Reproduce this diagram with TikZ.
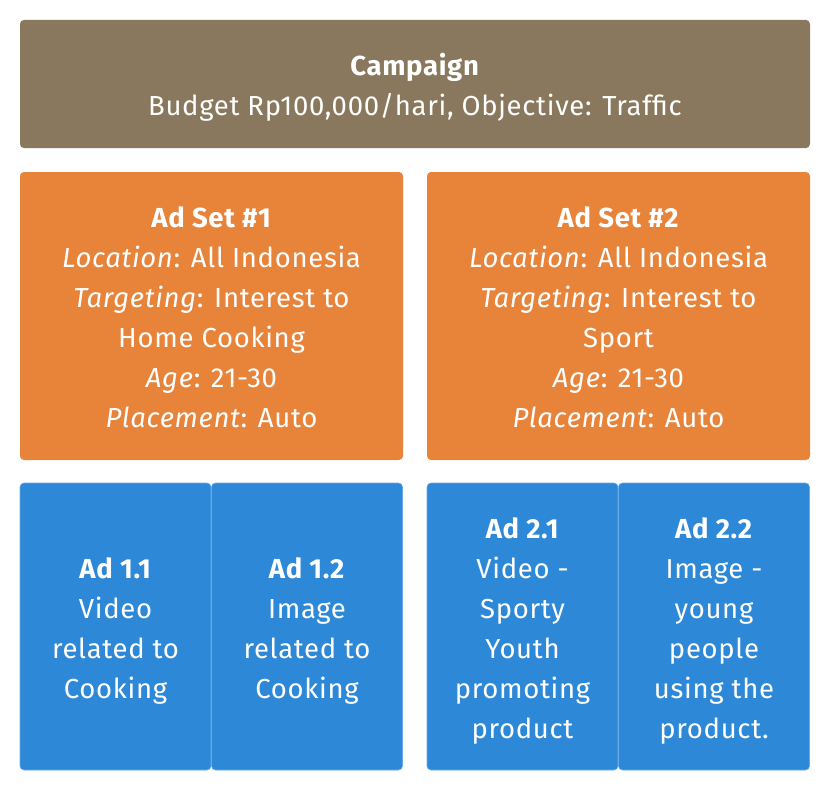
\documentclass[tikz,border=0pt]{standalone}
\usepackage{fontspec}
\setmainfont{Fira Sans}[LetterSpace=2.5]
\definecolor{campc}{HTML}{89785D}
\definecolor{setc}{HTML}{E8833A}
\definecolor{adc}{HTML}{2D88D8}
\definecolor{adline}{HTML}{6AAAE6}
\tikzset{
  box/.style={anchor=north west, inner sep=0pt, outer sep=0pt, rounded corners=4pt},
  txt/.style={inner sep=0pt, text=white, align=center, font=\fontsize{27.5}{40}\selectfont},
  campbox/.style={box, fill=campc, minimum width=790pt, minimum height=128pt},
  setbox/.style={box, fill=setc, minimum width=383pt, minimum height=288pt},
  adbox/.style={box, fill=adc, draw=adline, line width=0.6pt, minimum width=191pt, minimum height=287pt},
}
\begin{document}
\begin{tikzpicture}[x=1pt,y=1pt]
\useasboundingbox (0,0) rectangle (832,-792);
\node[campbox] (camp) at (20,-20) {};
\node[setbox] (set1) at (20,-172) {};
\node[setbox] (set2) at (427,-172) {};
\node[adbox] (ad11) at (20,-483) {};
\node[adbox] (ad12) at (211.5,-483) {};
\node[adbox] (ad21) at (427,-483) {};
\node[adbox] (ad22) at (618.5,-483) {};
\node[txt] (campt) at ([yshift=-3pt]camp.center) {\textbf{Campaign}\\Budget Rp100,000/hari, Objective: Traffic};
\node[txt] (set1t) at ([yshift=-1pt]set1.center) {\textbf{Ad Set \#1}\\\textit{Location}: All Indonesia\\\textit{Targeting}: Interest to\\Home Cooking\\\textit{Age}: 21-30\\\textit{Placement}: Auto};
\node[txt] (set2t) at ([yshift=-1pt]set2.center) {\textbf{Ad Set \#2}\\\textit{Location}: All Indonesia\\\textit{Targeting}: Interest to\\Sport\\\textit{Age}: 21-30\\\textit{Placement}: Auto};
\node[txt] (ad11t) at ([yshift=-4pt]ad11.center) {\textbf{Ad 1.1}\\Video\\related to\\Cooking};
\node[txt] (ad12t) at ([yshift=-4pt]ad12.center) {\textbf{Ad 1.2}\\Image\\related to\\Cooking};
\node[txt] (ad21t) at ([yshift=-4pt]ad21.center) {\textbf{Ad 2.1}\\Video -\\Sporty\\Youth\\promoting\\product};
\node[txt] (ad22t) at ([yshift=-4pt]ad22.center) {\textbf{Ad 2.2}\\Image -\\young\\people\\using the\\product.};
\end{tikzpicture}
\end{document}
